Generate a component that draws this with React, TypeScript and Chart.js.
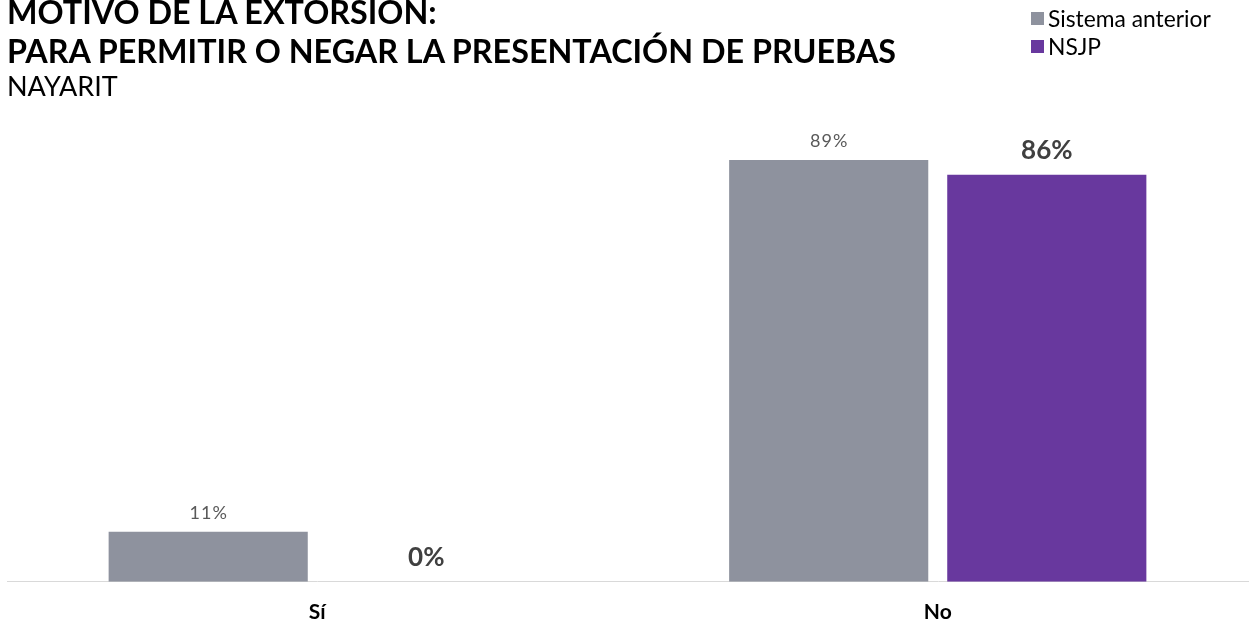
import React, { useEffect, useRef } from "react";
import { Chart, registerables } from "chart.js";

Chart.register(...registerables);

const TITLE_LINE_1 = "MOTIVO DE LA EXTORSIÓN:";
const TITLE_LINE_2 = "PARA PERMITIR O NEGAR LA PRESENTACIÓN DE PRUEBAS";
const SUBTITLE = "NAYARIT";

const categories = ["Sí", "No"];
const seriesNames = ["Sistema anterior", "NSJP"];
const sistemaAnterior = [10.6, 89.4];
const nsjp = [0, 86.3];
const seriesColors = ["#8E929E", "#68389E"];

const labelPlugin = {
  id: "barLabels",
  afterDatasetsDraw(chart: any) {
    const ctx = chart.ctx;
    chart.data.datasets.forEach((ds: any, di: number) => {
      const meta = chart.getDatasetMeta(di);
      meta.data.forEach((bar: any, i: number) => {
        const v = ds.data[i];
        const text = Math.round(v) + "%";
        ctx.save();
        ctx.textAlign = "center";
        ctx.textBaseline = "alphabetic";
        if (di === 0) {
          ctx.font = "18px Lato";
          ctx.fillStyle = "#595959";
          try { (ctx as any).letterSpacing = "1px"; } catch (e) {}
          ctx.fillText(text, bar.x + 0.5, bar.y - 13);
        } else {
          ctx.font = "bold 26px Lato";
          ctx.fillStyle = "#404040";
          ctx.fillText(text, bar.x, bar.y - 16);
        }
        ctx.restore();
      });
    });
  },
};

export default function App() {
  const canvasRef = useRef<HTMLCanvasElement | null>(null);

  useEffect(() => {
    let chart: Chart | null = null;
    let cancelled = false;
    const make = () => {
      if (cancelled || !canvasRef.current) return;
      chart = new Chart(canvasRef.current, {
        type: "bar",
        data: {
          labels: categories,
          datasets: [
            {
              label: seriesNames[0],
              data: sistemaAnterior,
              backgroundColor: seriesColors[0],
              categoryPercentage: 0.703,
              barPercentage: 0.913,
            },
            {
              label: seriesNames[1],
              data: nsjp,
              backgroundColor: seriesColors[1],
              categoryPercentage: 0.703,
              barPercentage: 0.913,
            },
          ],
        },
        options: {
          animation: false,
          responsive: false,
          maintainAspectRatio: false,
          layout: { padding: { top: 110, left: 7, right: 3, bottom: -22 } },
          plugins: {
            legend: { display: false },
            tooltip: { enabled: false },
            title: { display: false },
          },
          scales: {
            x: {
              grid: { display: false, drawTicks: false },
              border: { display: true, color: "#D9D9D9", width: 1 },
              ticks: {
                color: "#000000",
                font: { family: "Lato", size: 21, weight: "bold" },
                padding: 18,
              },
            },
            y: {
              display: false,
              min: 0,
              max: 100,
            },
          },
        },
        plugins: [labelPlugin],
      });
    };
    const fonts: any = (document as any).fonts;
    if (fonts && fonts.load) {
      Promise.all([
        fonts.load("18px Lato"),
        fonts.load("bold 26px Lato"),
      ]).then(make, make);
    } else {
      make();
    }
    return () => {
      cancelled = true;
      if (chart) chart.destroy();
    };
  }, []);

  return (
    <div
      style={{
        position: "absolute",
        left: 0,
        top: 0,
        width: 1251,
        height: 621,
        overflow: "hidden",
        background: "#ffffff",
      }}
    >
      <canvas
        ref={canvasRef}
        width={1251}
        height={621}
        style={{ position: "absolute", left: 0, top: 0, width: 1251, height: 621 }}
      />
      <div
        style={{
          position: "absolute",
          left: 7,
          top: -8,
          fontFamily: "Lato",
          fontWeight: "bold",
          fontSize: 32.3,
          lineHeight: "39px",
          color: "#000000",
          whiteSpace: "nowrap",
        }}
      >
        <div>{TITLE_LINE_1}</div>
        <div>{TITLE_LINE_2}</div>
      </div>
      <div
        style={{
          position: "absolute",
          left: 7,
          top: 72,
          fontFamily: "Lato",
          fontSize: 27,
          lineHeight: "27px",
          color: "#000000",
          whiteSpace: "nowrap",
        }}
      >
        {SUBTITLE}
      </div>
      <div
        style={{
          position: "absolute",
          left: 1031,
          top: 4,
          fontFamily: "Lato",
          fontSize: 22.8,
          lineHeight: "28px",
          color: "#000000",
          whiteSpace: "nowrap",
        }}
      >
        {seriesNames.map((name, i) => (
          <div key={name} style={{ display: "flex", alignItems: "center", height: 28 }}>
            <span
              style={{
                display: "inline-block",
                width: 13,
                height: 13,
                background: seriesColors[i],
                marginRight: 4,
              }}
            />
            <span>{name}</span>
          </div>
        ))}
      </div>
    </div>
  );
}
